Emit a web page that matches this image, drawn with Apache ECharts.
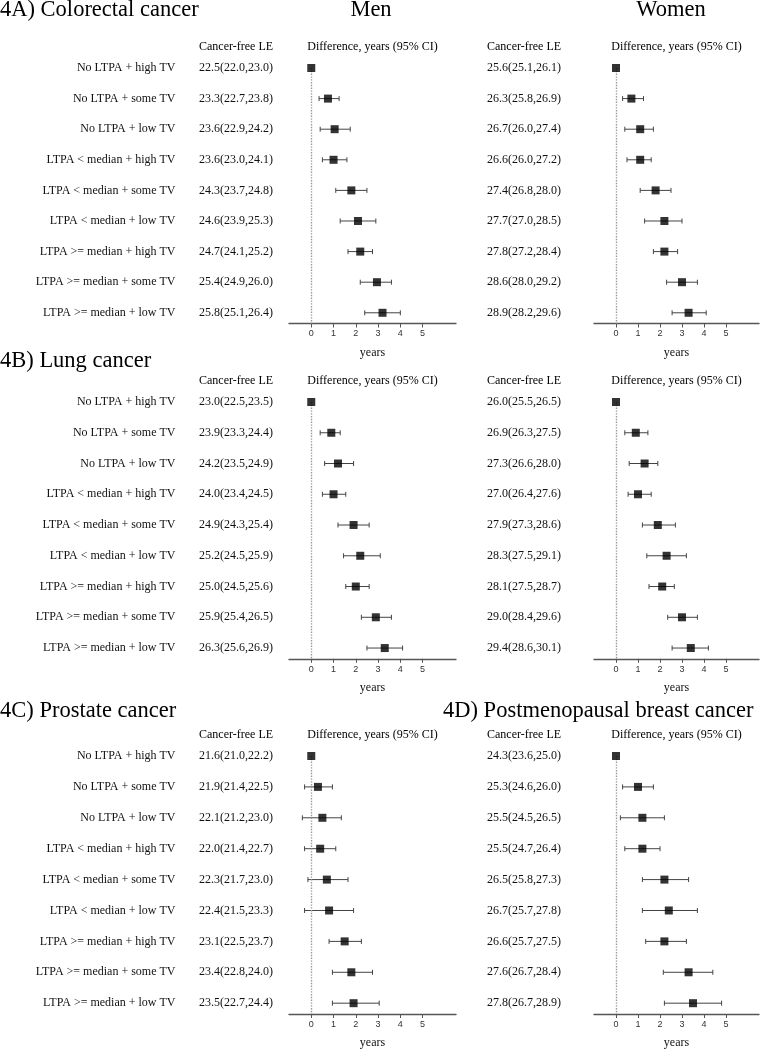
<!DOCTYPE html>
<html>
<head>
<meta charset="UTF-8">
<title>Cancer-free life expectancy</title>
<script src="https://cdn.jsdelivr.net/npm/echarts@6/dist/echarts.min.js"></script>
</head>
<body style="margin: 0; background: #fff;">
<div id="container" style="width: 760px; height: 1050px;"></div>
<script type="text/javascript">
var rowLabels = ['No LTPA + high TV', 'No LTPA + some TV', 'No LTPA + low TV',
    'LTPA < median + high TV', 'LTPA < median + some TV', 'LTPA < median + low TV',
    'LTPA >= median + high TV', 'LTPA >= median + some TV', 'LTPA >= median + low TV'];
var tickValues = [0, 1, 2, 3, 4, 5];

// 4A colorectal, men
var crcMenLE = ['22.5(22.0,23.0)', '23.3(22.7,23.8)', '23.6(22.9,24.2)', '23.6(23.0,24.1)', '24.3(23.7,24.8)',
    '24.6(23.9,25.3)', '24.7(24.1,25.2)', '25.4(24.9,26.0)', '25.8(25.1,26.4)'];
var crcMenDiff = [0, 0.75, 1.05, 1.0, 1.8, 2.1, 2.2, 2.95, 3.2];
var crcMenLo = [0, 0.35, 0.4, 0.5, 1.1, 1.3, 1.65, 2.2, 2.4];
var crcMenHi = [0, 1.25, 1.75, 1.6, 2.5, 2.9, 2.75, 3.6, 4.0];
// 4A colorectal, women
var crcWomenLE = ['25.6(25.1,26.1)', '26.3(25.8,26.9)', '26.7(26.0,27.4)', '26.6(26.0,27.2)', '27.4(26.8,28.0)',
    '27.7(27.0,28.5)', '27.8(27.2,28.4)', '28.6(28.0,29.2)', '28.9(28.2,29.6)'];
var crcWomenDiff = [0, 0.7, 1.1, 1.1, 1.8, 2.2, 2.2, 3.0, 3.3];
var crcWomenLo = [0, 0.3, 0.4, 0.5, 1.1, 1.3, 1.7, 2.3, 2.55];
var crcWomenHi = [0, 1.25, 1.7, 1.6, 2.5, 3.0, 2.8, 3.7, 4.1];
// 4B lung, men
var lungMenLE = ['23.0(22.5,23.5)', '23.9(23.3,24.4)', '24.2(23.5,24.9)', '24.0(23.4,24.5)', '24.9(24.3,25.4)',
    '25.2(24.5,25.9)', '25.0(24.5,25.6)', '25.9(25.4,26.5)', '26.3(25.6,26.9)'];
var lungMenDiff = [0, 0.9, 1.2, 1.0, 1.9, 2.2, 2.0, 2.9, 3.3];
var lungMenLo = [0, 0.4, 0.6, 0.5, 1.2, 1.45, 1.55, 2.25, 2.5];
var lungMenHi = [0, 1.3, 1.9, 1.55, 2.6, 3.1, 2.6, 3.6, 4.1];
// 4B lung, women
var lungWomenLE = ['26.0(25.5,26.5)', '26.9(26.3,27.5)', '27.3(26.6,28.0)', '27.0(26.4,27.6)', '27.9(27.3,28.6)',
    '28.3(27.5,29.1)', '28.1(27.5,28.7)', '29.0(28.4,29.6)', '29.4(28.6,30.1)'];
var lungWomenDiff = [0, 0.9, 1.3, 1.0, 1.9, 2.3, 2.1, 3.0, 3.4];
var lungWomenLo = [0, 0.4, 0.6, 0.55, 1.2, 1.4, 1.5, 2.35, 2.55];
var lungWomenHi = [0, 1.45, 1.9, 1.6, 2.7, 3.2, 2.65, 3.7, 4.2];
// 4C prostate, men
var prostMenLE = ['21.6(21.0,22.2)', '21.9(21.4,22.5)', '22.1(21.2,23.0)', '22.0(21.4,22.7)', '22.3(21.7,23.0)',
    '22.4(21.5,23.3)', '23.1(22.5,23.7)', '23.4(22.8,24.0)', '23.5(22.7,24.4)'];
var prostMenDiff = [0, 0.3, 0.5, 0.4, 0.7, 0.8, 1.5, 1.8, 1.9];
var prostMenLo = [0, -0.3, -0.4, -0.3, -0.15, -0.3, 0.8, 0.95, 0.95];
var prostMenHi = [0, 0.95, 1.35, 1.1, 1.65, 1.9, 2.25, 2.75, 3.05];
// 4D postmenopausal breast, women
var breastWomenLE = ['24.3(23.6,25.0)', '25.3(24.6,26.0)', '25.5(24.5,26.5)', '25.5(24.7,26.4)', '26.5(25.8,27.3)',
    '26.7(25.7,27.8)', '26.6(25.7,27.5)', '27.6(26.7,28.4)', '27.8(26.7,28.9)'];
var breastWomenDiff = [0, 1.0, 1.2, 1.2, 2.2, 2.4, 2.2, 3.3, 3.5];
var breastWomenLo = [0, 0.3, 0.2, 0.4, 1.2, 1.2, 1.35, 2.15, 2.2];
var breastWomenHi = [0, 1.7, 2.2, 2.0, 3.3, 3.7, 3.2, 4.4, 4.8];

var serif = 'Liberation Serif';
var panels = [
    {le: crcMenLE, diff: crcMenDiff, lo: crcMenLo, hi: crcMenHi, men: true, top: 68, height: 255.5},
    {le: crcWomenLE, diff: crcWomenDiff, lo: crcWomenLo, hi: crcWomenHi, men: false, top: 68, height: 255.5},
    {le: lungMenLE, diff: lungMenDiff, lo: lungMenLo, hi: lungMenHi, men: true, top: 402, height: 256.8},
    {le: lungWomenLE, diff: lungWomenDiff, lo: lungWomenLo, hi: lungWomenHi, men: false, top: 402, height: 256.8},
    {le: prostMenLE, diff: prostMenDiff, lo: prostMenLo, hi: prostMenHi, men: true, top: 756, height: 258},
    {le: breastWomenLE, diff: breastWomenDiff, lo: breastWomenLo, hi: breastWomenHi, men: false, top: 756, height: 258}
];

function renderBar(params, api) {
    var lo = api.value(0), hi = api.value(1), y = api.value(2);
    if (lo === hi) return null;
    var a = api.coord([lo, y]), b = api.coord([hi, y]);
    var c = 2.5;
    var st = {stroke: '#444', lineWidth: 1};
    return {
        type: 'group',
        children: [
            {type: 'line', shape: {x1: a[0], y1: a[1], x2: b[0], y2: b[1]}, style: st},
            {type: 'line', shape: {x1: a[0], y1: a[1] - c, x2: a[0], y2: a[1] + c}, style: st},
            {type: 'line', shape: {x1: b[0], y1: b[1] - c, x2: b[0], y2: b[1] + c}, style: st}
        ]
    };
}

var grids = [], xAxes = [], yAxes = [], series = [];
panels.forEach(function (p, i) {
    var left = p.men ? 289 : 594;
    var width = p.men ? 167 : 165;
    var leX = p.men ? 199 : 487;
    grids.push({left: left, top: p.top, width: width, height: p.height});
    xAxes.push({
        gridIndex: i, type: 'value', min: -1, max: 6.5, interval: 1, position: 'bottom',
        axisLine: {onZero: false, lineStyle: {color: '#555', width: 1.3}},
        axisTick: {customValues: tickValues, length: 4, lineStyle: {color: '#555'}},
        axisLabel: {customValues: tickValues, fontSize: 9, margin: 6, color: '#333', fontFamily: 'Liberation Sans',
            formatter: function (v) { return (v >= 0 && v <= 5) ? String(v) : ''; }},
        splitLine: {show: false},
        name: 'years', nameLocation: 'middle', nameGap: 23,
        nameTextStyle: {fontFamily: serif, fontSize: 12, color: '#111'}
    });
    var yBase = {
        gridIndex: i, type: 'value', inverse: true, min: 0, max: 8.35, interval: 1, position: 'left',
        axisLine: {show: false, onZero: false}, axisTick: {show: false}, splitLine: {show: false}
    };
    var leAxis = JSON.parse(JSON.stringify(yBase));
    leAxis.axisLabel = {
        customValues: [0, 1, 2, 3, 4, 5, 6, 7, 8], align: 'left', margin: left - leX,
        fontFamily: serif, fontSize: 12, color: '#111',
        formatter: function (v) { return Number.isInteger(v) && p.le[v] ? p.le[v] : ''; }
    };
    yAxes.push(leAxis);
    var yIndex = yAxes.length - 1;
    if (p.men) {
        var rowAxis = JSON.parse(JSON.stringify(yBase));
        rowAxis.axisLabel = {
            customValues: [0, 1, 2, 3, 4, 5, 6, 7, 8], align: 'right', margin: left - 175.5,
            fontFamily: serif, fontSize: 12, color: '#111',
            formatter: function (v) { return Number.isInteger(v) && rowLabels[v] ? rowLabels[v] : ''; }
        };
        yAxes.push(rowAxis);
    }
    var barData = p.lo.map(function (lo, k) { return [lo, p.hi[k], k]; });
    var ptData = p.diff.map(function (d, k) { return [d, k]; });
    // dotted reference line at 0, kept in its own low layer
    series.push({
        type: 'line', xAxisIndex: i, yAxisIndex: yIndex, z: 1, data: [],
        markLine: {
            silent: true, symbol: ['none', 'none'], label: {show: false},
            lineStyle: {type: 'dotted', color: '#999', width: 1.4},
            data: [{xAxis: 0}]
        }
    });
    series.push({
        type: 'custom', xAxisIndex: i, yAxisIndex: yIndex, z: 4,
        renderItem: renderBar, encode: {x: [0, 1], y: 2}, data: barData
    });
    series.push({
        type: 'scatter', xAxisIndex: i, yAxisIndex: yIndex, z: 10,
        symbol: 'rect', symbolSize: 8, itemStyle: {color: '#000'}, data: ptData
    });
});

function txt(s, x, y, size, align) {
    return {type: 'text', x: x, y: y, style: {text: s, fontFamily: serif, fontSize: size, fill: '#000',
        align: align, verticalAlign: 'middle', textAlign: align, textVerticalAlign: 'middle'}};
}
var graphics = [
    txt('4A) Colorectal cancer', 0, 10, 22.5, 'left'),
    txt('Men', 371, 10, 22.5, 'center'),
    txt('Women', 671, 10, 22.5, 'center'),
    txt('4B) Lung cancer', 0, 361, 22.5, 'left'),
    txt('4C) Prostate cancer', 0, 711, 22.5, 'left'),
    txt('4D) Postmenopausal breast cancer', 443, 711, 22.5, 'left')
];
[47, 381, 735].forEach(function (y) {
    graphics.push(txt('Cancer-free LE', 199, y, 12, 'left'));
    graphics.push(txt('Difference, years (95% CI)', 372.5, y, 12, 'center'));
    graphics.push(txt('Cancer-free LE', 487, y, 12, 'left'));
    graphics.push(txt('Difference, years (95% CI)', 676.5, y, 12, 'center'));
});

var myChart = echarts.init(document.getElementById('container'));
myChart.setOption({
    animation: false,
    backgroundColor: '#fff',
    grid: grids,
    xAxis: xAxes,
    yAxis: yAxes,
    series: series,
    graphic: graphics
});
</script>
</body>
</html>
